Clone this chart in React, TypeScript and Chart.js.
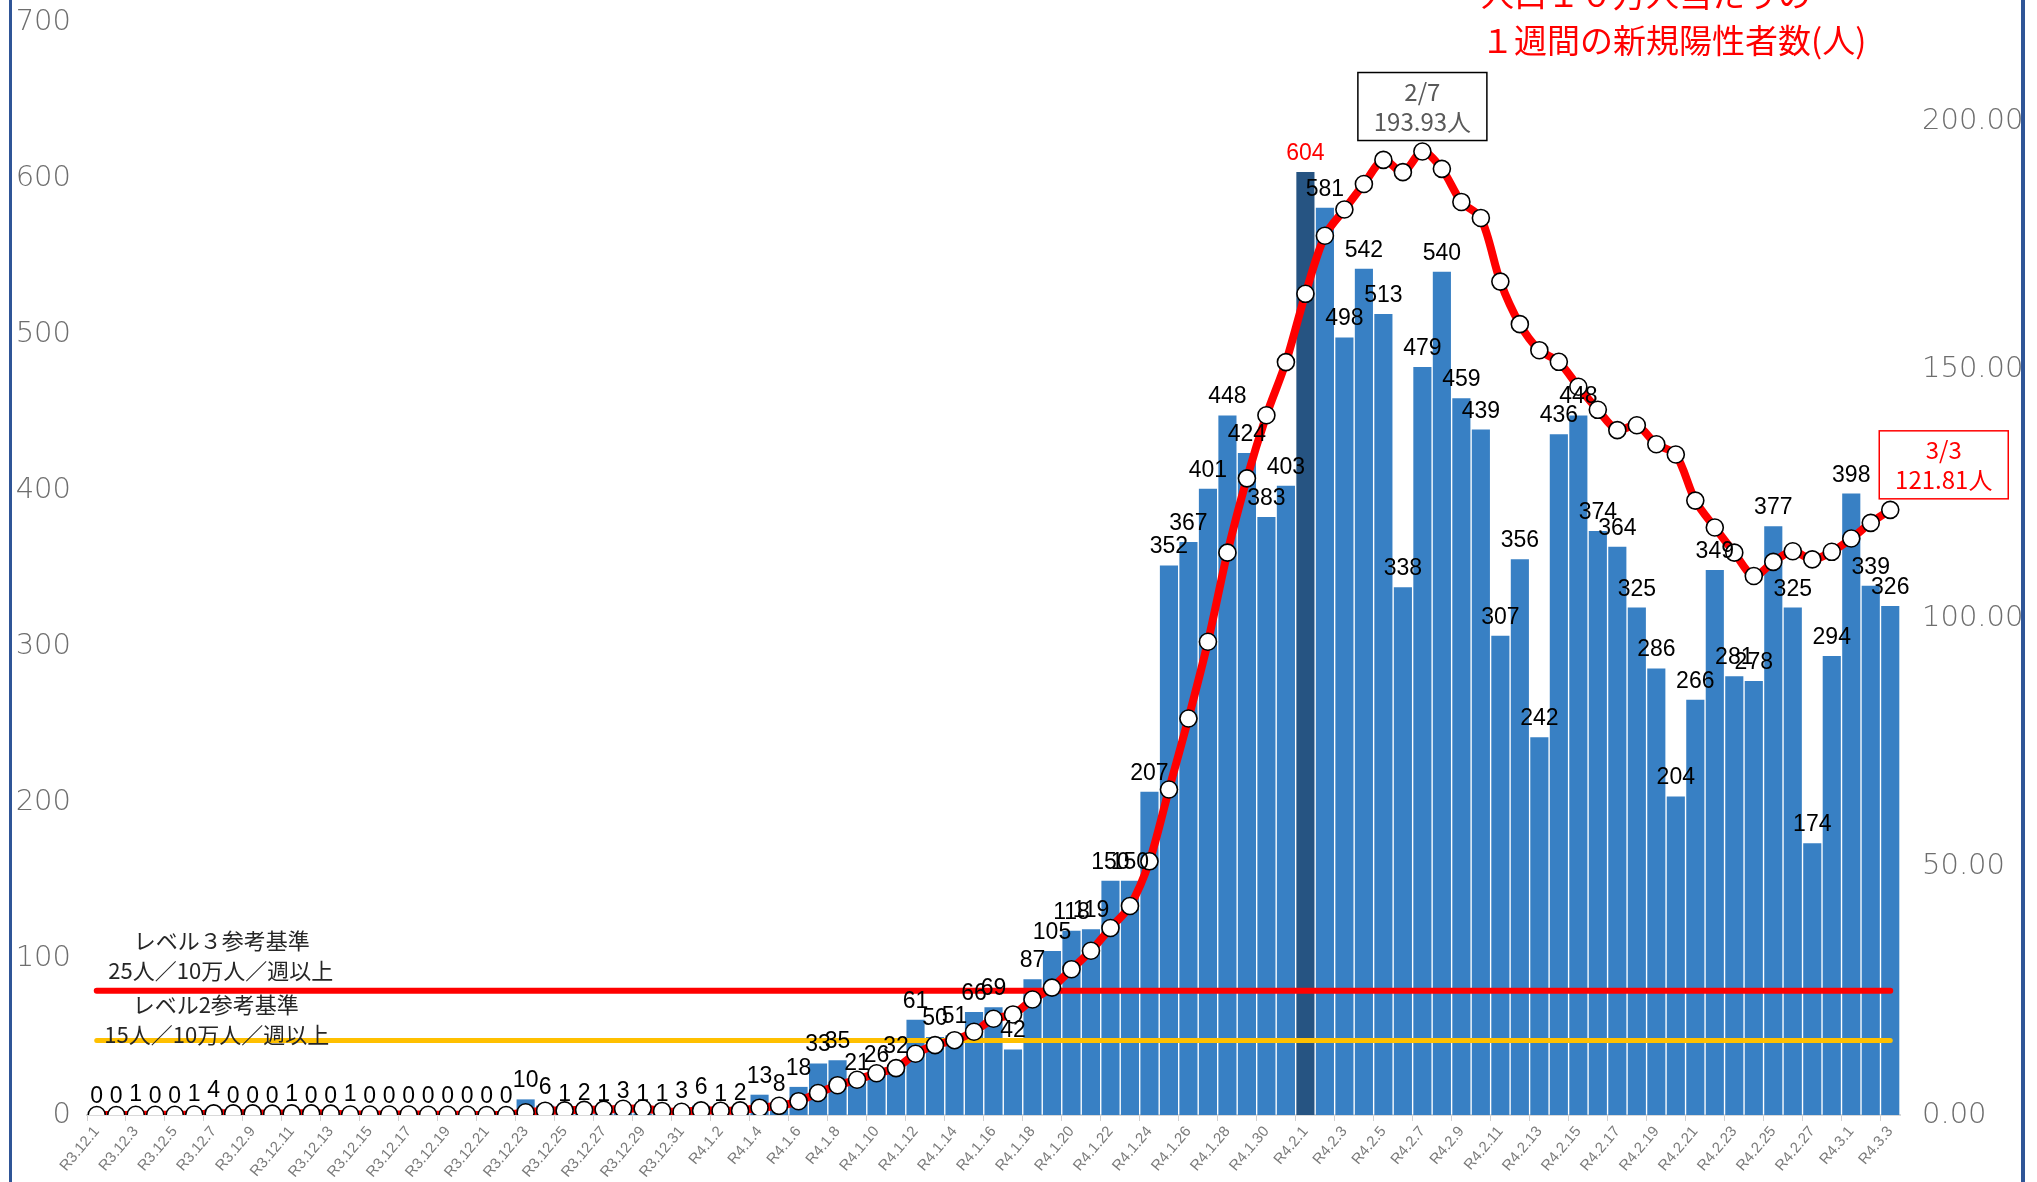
import React, { useEffect, useRef } from 'react';
import { Chart, registerables } from 'chart.js';

Chart.register(...registerables);

const LABELS = [
  'R3.12.1','R3.12.2','R3.12.3','R3.12.4','R3.12.5','R3.12.6','R3.12.7','R3.12.8','R3.12.9','R3.12.10',
  'R3.12.11','R3.12.12','R3.12.13','R3.12.14','R3.12.15','R3.12.16','R3.12.17','R3.12.18','R3.12.19','R3.12.20',
  'R3.12.21','R3.12.22','R3.12.23','R3.12.24','R3.12.25','R3.12.26','R3.12.27','R3.12.28','R3.12.29','R3.12.30',
  'R3.12.31',
  'R4.1.1','R4.1.2','R4.1.3','R4.1.4','R4.1.5','R4.1.6','R4.1.7','R4.1.8','R4.1.9','R4.1.10',
  'R4.1.11','R4.1.12','R4.1.13','R4.1.14','R4.1.15','R4.1.16','R4.1.17','R4.1.18','R4.1.19','R4.1.20',
  'R4.1.21','R4.1.22','R4.1.23','R4.1.24','R4.1.25','R4.1.26','R4.1.27','R4.1.28','R4.1.29','R4.1.30',
  'R4.1.31',
  'R4.2.1','R4.2.2','R4.2.3','R4.2.4','R4.2.5','R4.2.6','R4.2.7','R4.2.8','R4.2.9','R4.2.10',
  'R4.2.11','R4.2.12','R4.2.13','R4.2.14','R4.2.15','R4.2.16','R4.2.17','R4.2.18','R4.2.19','R4.2.20',
  'R4.2.21','R4.2.22','R4.2.23','R4.2.24','R4.2.25','R4.2.26','R4.2.27','R4.2.28',
  'R4.3.1','R4.3.2','R4.3.3',
];

// daily new positives (left axis)
const DAILY_CASES = [
  0, 0, 1, 0, 0, 1, 4, 0, 0, 0,
  1, 0, 0, 1, 0, 0, 0, 0, 0, 0,
  0, 0, 10, 6, 1, 2, 1, 3, 1, 1,
  3,
  6, 1, 2, 13, 8, 18, 33, 35, 21, 26,
  32, 61, 50, 51, 66, 69, 42, 87, 105, 118,
  119, 150, 150, 207, 352, 367, 401, 448, 424, 383,
  403,
  604, 581, 498, 542, 513, 338, 479, 540, 459, 439,
  307, 356, 242, 436, 448, 374, 364, 325, 286, 204,
  266, 349, 281, 278, 377, 325, 174, 294,
  398, 339, 326,
];

// weekly new positives per 100k (right axis)
const WEEKLY_PER_100K = [
  0, 0, 0.05, 0.05, 0.05, 0.11, 0.33, 0.33, 0.33, 0.27,
  0.33, 0.33, 0.27, 0.11, 0.11, 0.11, 0.11, 0.05, 0.05, 0.05,
  0, 0, 0.55, 0.87, 0.93, 1.04, 1.09, 1.25, 1.31, 0.82,
  0.65,
  0.93, 0.87, 0.93, 1.47, 1.85, 2.78, 4.42, 6.0, 7.09, 8.4,
  9.44, 12.33, 14.07, 15.06, 16.75, 19.37, 20.24, 23.24, 25.64, 29.35,
  33.06, 37.64, 42.06, 51.06, 65.52, 79.81, 95.25, 113.19, 128.15, 140.85,
  151.54,
  165.29, 176.97, 182.26, 187.39, 192.24, 189.78, 193.93, 190.44, 183.78, 180.56,
  167.75, 159.18, 153.94, 151.6, 146.58, 141.94, 137.85, 138.83, 135.01, 132.94,
  123.67, 118.26, 113.19, 108.5, 111.34, 113.47, 111.83, 113.36,
  116.03, 119.19, 121.81,
];

const LEFT_MAX = 700;
const LEFT_STEP = 100;
const RIGHT_MAX = 220;
const RIGHT_STEP = 50;

const HIGHLIGHT_INDEX = 62; // R4.2.1

const LEVEL_LINES = [
  { value: 25, color: '#ff0000', title: 'レベル３参考基準', sub: '25人／10万人／週以上' },
  { value: 15, color: '#ffc000', title: 'レベル2参考基準', sub: '15人／10万人／週以上' },
];

const CALLOUTS = [
  { index: 68, lines: ['2/7', '193.93人'], color: '#595959', border: '#000000', align: 'center' },
  { index: 92, lines: ['3/3', '121.81人'], color: '#ff0000', border: '#ff0000', align: 'left' },
];

const TITLE_LINES = ['人口１０万人当たりの', '１週間の新規陽性者数(人)'];

const JP = '"Noto Sans CJK JP", "Noto Sans", sans-serif';
const NUM = '"Liberation Sans", Arial, sans-serif';
const THIN = '"DejaVu Sans", sans-serif';

const overlayPlugin = {
  id: 'overlay',
  afterDatasetDraw(chart: any, args: any) {
    if (args.meta.type !== 'bar') return;
    const ctx = chart.ctx;
    const xs = chart.scales.x;
    const y1 = chart.scales.y1;
    const xa = xs.getPixelForValue(0);
    const xb = xs.getPixelForValue(LABELS.length - 1);
    LEVEL_LINES.forEach((l, i) => {
      const yy = y1.getPixelForValue(l.value);
      ctx.save();
      ctx.strokeStyle = l.color;
      ctx.lineWidth = i === 0 ? 6 : 5;
      ctx.lineCap = 'round';
      ctx.beginPath();
      ctx.moveTo(xa, yy);
      ctx.lineTo(xb, yy);
      ctx.stroke();
      ctx.restore();
    });
  },
  afterDatasetsDraw(chart: any) {
    const ctx = chart.ctx;
    const xs = chart.scales.x;
    const y1 = chart.scales.y1;
    const barMeta = chart.getDatasetMeta(0);
    const lineMeta = chart.getDatasetMeta(1);

    // bar value labels
    ctx.save();
    ctx.font = `23px ${NUM}`;
    ctx.textAlign = 'center';
    ctx.textBaseline = 'alphabetic';
    barMeta.data.forEach((bar: any, i: number) => {
      ctx.fillStyle = i === HIGHLIGHT_INDEX ? '#ff0000' : '#000000';
      ctx.fillText(String(DAILY_CASES[i]), bar.x, bar.y - 12);
    });
    ctx.restore();

    // level texts
    const xa = xs.getPixelForValue(0);
    ctx.save();
    ctx.font = `22px ${JP}`;
    ctx.fillStyle = '#262626';
    ctx.textAlign = 'center';
    ctx.textBaseline = 'middle';
    LEVEL_LINES.forEach((l, i) => {
      const yy = y1.getPixelForValue(l.value);
      if (i === 0) {
        ctx.fillText(l.title, xa + 125, yy - 50);
        ctx.fillText(l.sub, xa + 124, yy - 20);
      } else {
        ctx.fillText(l.title, xa + 119, yy - 36);
        ctx.fillText(l.sub, xa + 120, yy - 6);
      }
    });
    ctx.restore();

    // callout boxes
    CALLOUTS.forEach((c) => {
      const p = lineMeta.data[c.index];
      const w = 129;
      const h = 68;
      const left = c.align === 'center' ? p.x - w / 2 : p.x - 11;
      const top = p.y - 11 - h;
      ctx.save();
      ctx.fillStyle = '#ffffff';
      ctx.fillRect(left, top, w, h);
      ctx.strokeStyle = c.border;
      ctx.lineWidth = 1.5;
      ctx.strokeRect(left, top, w, h);
      ctx.fillStyle = c.color;
      ctx.font = `24px ${JP}`;
      ctx.textAlign = 'center';
      ctx.textBaseline = 'middle';
      ctx.fillText(c.lines[0], left + w / 2, top + 19);
      ctx.fillText(c.lines[1], left + w / 2, top + 49);
      ctx.restore();
    });
  },
  afterDraw(chart: any) {
    const ctx = chart.ctx;
    // title (partly clipped at top)
    ctx.save();
    ctx.fillStyle = '#ff0000';
    ctx.font = `33px ${JP}`;
    ctx.textAlign = 'left';
    ctx.textBaseline = 'middle';
    ctx.fillText(TITLE_LINES[0], 1481, -6);
    ctx.fillText(TITLE_LINES[1], 1481, 40);
    ctx.restore();

    // frame lines
    ctx.save();
    ctx.fillStyle = '#2f5597';
    ctx.fillRect(9, 0, 3, chart.height);
    ctx.fillRect(2021, 0, 4, chart.height);
    ctx.restore();
  },
};

export default function App() {
  const ref = useRef<HTMLCanvasElement | null>(null);

  useEffect(() => {
    if (!ref.current) return;
    const chart = new Chart(ref.current, {
      type: 'bar',
      data: {
        labels: LABELS,
        datasets: [
          {
            type: 'bar',
            label: '新規陽性者数',
            data: DAILY_CASES,
            yAxisID: 'y',
            backgroundColor: DAILY_CASES.map((_, i) => (i === HIGHLIGHT_INDEX ? '#265482' : '#3880c4')),
            borderWidth: 0,
            barPercentage: 1,
            categoryPercentage: 0.93,
            order: 2,
          },
          {
            type: 'line',
            label: '人口10万人当たり',
            data: WEEKLY_PER_100K,
            yAxisID: 'y1',
            borderColor: '#ff0000',
            borderWidth: 8,
            tension: 0.3,
            pointRadius: 8.5,
            pointBackgroundColor: '#ffffff',
            pointBorderColor: '#000000',
            pointBorderWidth: 1.6,
            order: 1,
          },
        ],
      } as any,
      options: {
        responsive: false,
        animation: false,
        layout: { padding: { top: 22, left: 0, right: 0, bottom: 0 } },
        plugins: {
          legend: { display: false },
          tooltip: { enabled: false },
          title: { display: false },
        },
        scales: {
          x: {
            offset: true,
            grid: {
              display: true,
              drawOnChartArea: false,
              drawTicks: true,
              tickLength: 6,
              tickColor: (c: any) => (c.index % 2 === 0 ? '#d0d0d0' : 'rgba(0,0,0,0)'),
            },
            border: { display: true, color: '#d9d9d9', width: 2 },
            ticks: {
              autoSkip: false,
              minRotation: 50,
              maxRotation: 50,
              padding: 2,
              color: '#7a7a7a',
              font: { family: NUM, size: 15 },
              callback: (_v: any, i: number) => (i % 2 === 0 ? LABELS[i] : ''),
            },
            afterFit: (s: any) => {
              s.height = 67;
              s.paddingLeft = 0;
              s.paddingRight = 0;
            },
          },
          y: {
            position: 'left',
            min: 0,
            max: LEFT_MAX,
            grid: { display: false },
            border: { display: false },
            ticks: {
              stepSize: LEFT_STEP,
              padding: 8,
              color: '#6e6e6e',
              font: { family: THIN, size: 29, weight: '200' },
            },
            afterFit: (s: any) => {
              s.width = 87;
              s.paddingTop = 0;
              s.paddingBottom = 0;
            },
          },
          y1: {
            position: 'right',
            min: 0,
            max: RIGHT_MAX,
            grid: { display: false },
            border: { display: false },
            ticks: {
              stepSize: RIGHT_STEP,
              includeBounds: false,
              padding: 14,
              color: '#6e6e6e',
              font: { family: THIN, size: 29, weight: '200' },
              callback: (v: any) => (Number(v) % RIGHT_STEP === 0 ? Number(v).toFixed(2) : ''),
            },
            afterFit: (s: any) => {
              s.width = 137;
              s.paddingTop = 0;
              s.paddingBottom = 0;
            },
          },
        },
      } as any,
      plugins: [overlayPlugin],
    });
    return () => chart.destroy();
  }, []);

  return (
    <div style={{ position: 'fixed', left: 0, top: 0, width: 2037, height: 1182, background: '#ffffff' }}>
      <canvas ref={ref} width={2037} height={1182} style={{ display: 'block' }} />
    </div>
  );
}
